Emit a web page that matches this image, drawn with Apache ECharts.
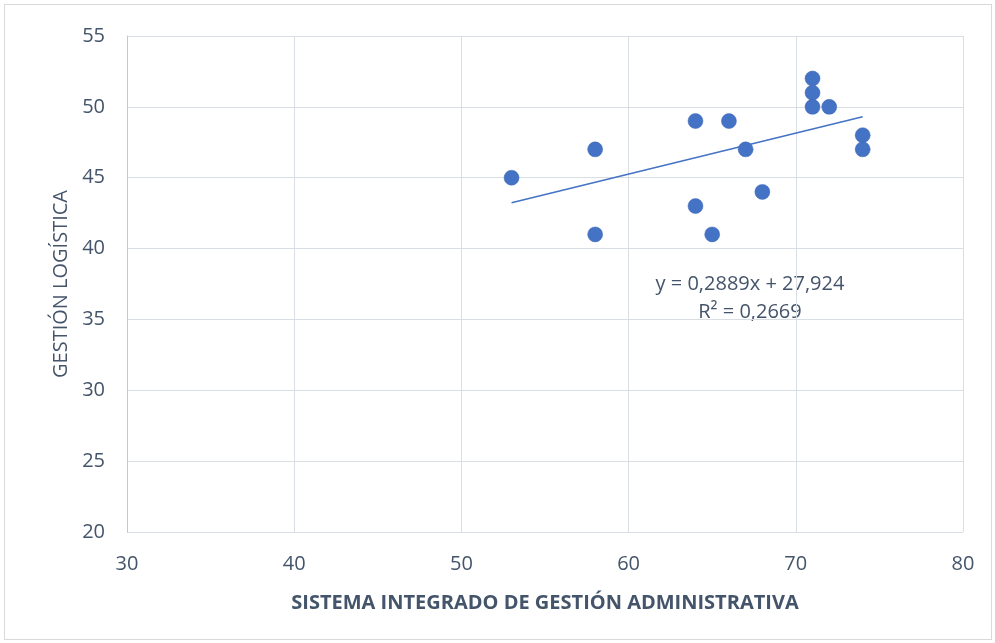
<!DOCTYPE html>
<html>
<head>
    <meta charset="utf-8">
    <title>ECharts</title>
    <script src="https://cdn.jsdelivr.net/npm/echarts@6/dist/echarts.min.js"></script>
    <style>
        body { margin: 0; background: #fff; }
        #frame { position: absolute; left: 4px; top: 4px; width: 986px; height: 634px; border: 1px solid #d9d9d9; }
    </style>
</head>
<body>
    <div id="frame"></div>
    <div id="main" style="position:absolute;left:0;top:0;width:995px;height:643px;"></div>
    <script type="text/javascript">
        // data
        var sistema = [53, 58, 58, 64, 64, 65, 66, 67, 68, 71, 71, 71, 72, 74, 74];
        var logistica = [45, 47, 41, 49, 43, 41, 49, 47, 44, 52, 51, 50, 50, 48, 47];
        // linear trend shown on the chart
        var slope = 0.2889;
        var intercept = 27.924;
        var eqText = 'y = 0,2889x + 27,924';
        var r2Text = 'R² = 0,2669';

        var points = sistema.map(function (x, i) { return [x, logistica[i]]; });
        var xmin = Math.min.apply(null, sistema);
        var xmax = Math.max.apply(null, sistema);
        var trend = [[xmin, slope * xmin + intercept], [xmax, slope * xmax + intercept]];

        var textColor = '#44546a';
        var fontFam = '"Open Sans", sans-serif';

        var chart = echarts.init(document.getElementById('main'));
        var option = {
            animation: false,
            grid: { left: 127, right: 32, top: 36, bottom: 111 },
            xAxis: {
                type: 'value', min: 30, max: 80, interval: 10,
                name: 'SISTEMA INTEGRADO DE GESTIÓN ADMINISTRATIVA',
                nameLocation: 'middle', nameGap: 61,
                nameTextStyle: { color: textColor, fontSize: 20, fontWeight: 'bold', fontFamily: fontFam },
                axisLine: { show: false },
                axisTick: { show: false },
                axisLabel: { color: textColor, fontSize: 20, fontFamily: fontFam, margin: 22 },
                splitLine: { lineStyle: { color: '#d9dde4', width: 1 } }
            },
            yAxis: {
                type: 'value', min: 20, max: 55, interval: 5,
                name: 'GESTIÓN LOGÍSTICA',
                nameLocation: 'middle', nameGap: 56,
                nameTextStyle: { color: textColor, fontSize: 20, fontFamily: fontFam },
                axisLine: { show: true, lineStyle: { color: '#bfc8d6', width: 1 } },
                axisTick: { show: false },
                axisLabel: { color: textColor, fontSize: 20, fontFamily: fontFam, margin: 22 },
                splitLine: { lineStyle: { color: '#d9dde4', width: 1 } }
            },
            series: [
                {
                    type: 'scatter',
                    data: points,
                    symbolSize: 15,
                    itemStyle: { color: '#4472c4', opacity: 1, borderColor: '#3d68b5', borderWidth: 0.5 }
                },
                {
                    type: 'line',
                    data: trend,
                    symbol: 'none',
                    lineStyle: { color: '#4472c4', width: 1.5 },
                    z: 1
                }
            ],
            graphic: [
                {
                    type: 'text', x: 750, y: 270,
                    style: { text: eqText + '\n' + r2Text, fill: textColor, font: '20px ' + fontFam, align: 'center', lineHeight: 28 }
                }
            ]
        };
        chart.setOption(option);
    </script>
</body>
</html>
